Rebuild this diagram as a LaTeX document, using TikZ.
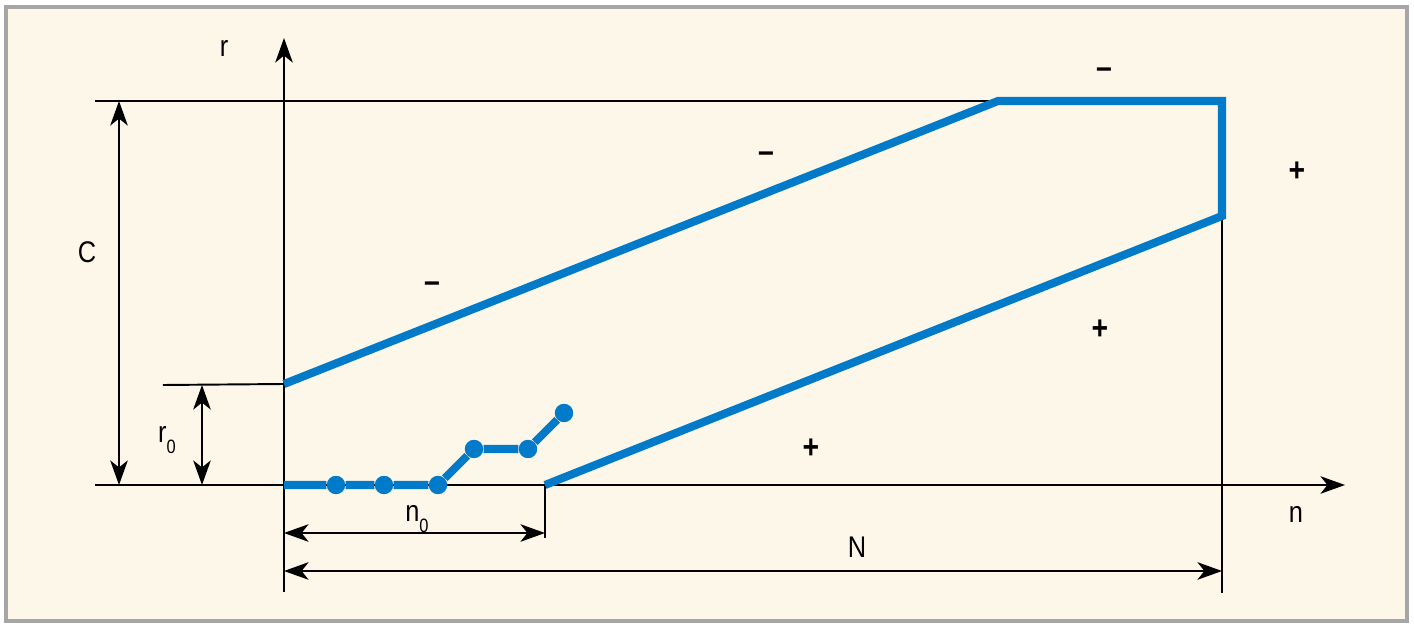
\documentclass[tikz,border=0pt]{standalone}
\usepackage{fontspec}
\setmainfont{Liberation Sans}[FakeStretch=0.85]
\usepackage{xcolor}
\usetikzlibrary{arrows.meta}
\definecolor{cream}{RGB}{253,247,233}
\definecolor{framegray}{RGB}{166,166,166}
\definecolor{pathblue}{RGB}{0,122,201}
\tikzstyle{thinline}=[draw,line width=1.1pt]
\tikzstyle{axis}=[draw,line width=1.1pt,-{Stealth[length=14pt,width=10pt,inset=4pt]}]
\tikzstyle{dimline}=[draw,line width=1.1pt,{Stealth[length=14pt,width=10pt,inset=4pt]}-{Stealth[length=14pt,width=10pt,inset=4pt]}]
\tikzstyle{bound}=[draw=pathblue,line width=4.6pt]
\tikzstyle{dot}=[circle,fill=pathblue,minimum size=10.5pt,inner sep=0pt]
\tikzstyle{lbl}=[font=\fontsize{17}{17}\selectfont,inner sep=0pt]
\tikzstyle{sign}=[font=\bfseries\fontsize{19}{19}\selectfont,inner sep=0pt]
\newcommand{\subz}{\raisebox{-6pt}{\fontsize{11}{11}\selectfont 0}}

\begin{document}
\begin{tikzpicture}[x=0.02cm,y=-0.02cm]

 % frame
 \fill[white] (0,0) rectangle (1414,628);
 \draw[line width=2.3pt, draw=framegray, fill=cream] (6,7) rectangle (1407,621);

 % points
 \coordinate (o) at (284,485);
 \coordinate (rtop) at (284,38);
 \coordinate (rbot) at (284,592);
 \coordinate (nleft) at (95,485);
 \coordinate (nend) at (1345,485);
 \coordinate (cleft) at (95,101);
 \coordinate (u0) at (284,384);
 \coordinate (u1) at (998,101);
 \coordinate (u2) at (1222,101);
 \coordinate (u3) at (1222,216);
 \coordinate (u4) at (545,485);
 \coordinate (nbot) at (1222,593);
 \coordinate (n0bot) at (545,538);
 \coordinate (r0left) at (163,385);

 % axes and guides
 \path[axis] (rbot) -- (rtop);
 \path[axis] (nleft) -- (nend);
 \path[thinline] (cleft) -- (u1);
 \path[thinline] (r0left) -- (u0);
 \path[thinline] (u3) -- (nbot);
 \path[thinline] (u4) -- (n0bot);

 % dimensions
 \path[dimline] (119,101) -- (119,485);
 \path[dimline] (202,385) -- (202,485);
 \path[dimline] (284,533) -- (545,533);
 \path[dimline] (284,571) -- (1222,571);

 % labels
 \node[lbl] (rlab) at (224,48) {r};
 \node[lbl] (nlab) at (1296,514) {n};
 \node[lbl] (clab) at (87,252) {C};
 \node[lbl] (r0lab) at (167,440) {r\subz};
 \node[lbl] (n0lab) at (417,519) {n\subz};
 \node[lbl] (Nlab) at (857,547) {N};

 % boundary
 \path[bound] (u0) -- (u1) -- (u2) -- (u3) -- (u4);

 % path with steps
 \foreach \x/\y/\name in {336/485/d1, 384/485/d2, 438/485/d3, 474/449/d4, 528/449/d5, 564/413/d6}
   \node[dot] (\name) at (\x,\y) {};
 \path[bound] (o) -- (d1) -- (d2) -- (d3) -- (d4) -- (d5) -- (d6);

 % signs
 \foreach \x/\y/\name/\s in {432/287/m1/--, 766/157/m2/--, 1104/73/m3/--, 1297/172/p1/+, 1100/330/p2/+, 811/449/p3/+}
   \node[sign] (\name) at (\x,\y) {\s};

\end{tikzpicture}
\end{document}
